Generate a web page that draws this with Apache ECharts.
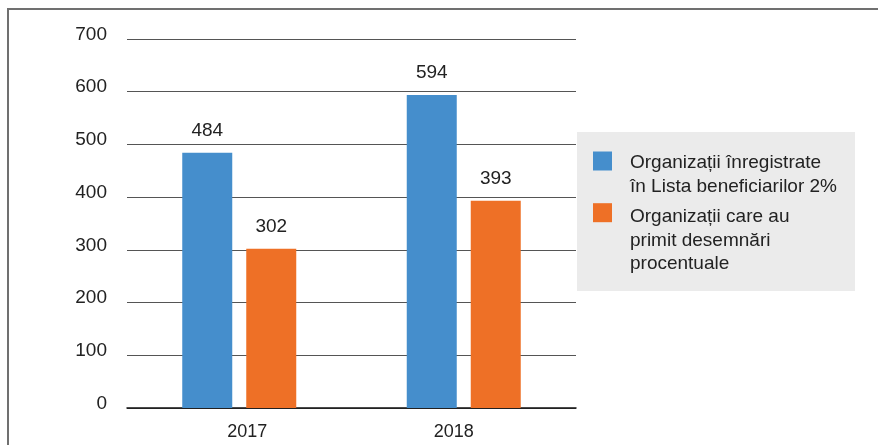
<!DOCTYPE html>
<html>
<head>
<meta charset="utf-8">
<script src="https://cdn.jsdelivr.net/npm/echarts@6/dist/echarts.min.js"></script>
<style>
  html, body { margin: 0; padding: 0; background: #fff; }
  #chart { width: 878px; height: 445px; }
</style>
</head>
<body>
<div id="chart"></div>
<script>
// data
const years = ['2017', '2018'];
const registered = [484, 594];
const received = [302, 393];
const seriesNames = [
  'Organizații înregistrate în Lista beneficiarilor 2%',
  'Organizații care au primit desemnări procentuale'
];
// wrapped legend text, as in the original
const legendLines = [
  ['Organizații înregistrate', 'în Lista beneficiarilor 2%'],
  ['Organizații care au', 'primit desemnări', 'procentuale']
];
const yTicks = [0, 100, 200, 300, 400, 500, 600, 700];

const FONT = '"Liberation Sans", Arial, sans-serif';
const LINE_H = 23.5;

const chart = echarts.init(document.getElementById('chart'));

// legend text is centred on its icon, so prepend blank spacer lines to put
// the icon next to the first real line
function legendText(name) {
  const lines = legendLines[seriesNames.indexOf(name)];
  const blanks = new Array(lines.length - 1).fill('{s| }');
  return blanks.concat(lines.map(l => '{t|' + l + '}')).join('\n');
}

chart.setOption({
  animation: false,
  textStyle: { fontFamily: FONT },
  graphic: [
    {
      type: 'polyline',
      shape: { points: [[8, 445], [8, 9], [878, 9]] },
      style: { stroke: '#707070', lineWidth: 2, fill: null },
      silent: true
    },
    {
      type: 'rect',
      z: -1,
      shape: { x: 577, y: 132, width: 278, height: 159 },
      style: { fill: '#ebebeb' },
      silent: true
    }
  ],
  grid: { left: 127, right: 302, top: 39, bottom: 37, containLabel: false },
  legend: {
    orient: 'vertical',
    left: 593,
    top: 128,
    padding: 0,
    itemGap: -42.3,
    itemWidth: 19,
    itemHeight: 19,
    icon: 'rect',
    data: seriesNames,
    formatter: legendText,
    textStyle: {
      fontFamily: FONT, fontSize: 19, color: '#222', padding: [0, 0, 0, 13],
      rich: {
        s: { fontSize: 19, lineHeight: 28, fontFamily: FONT },
        t: { fontSize: 19, lineHeight: LINE_H, color: '#222', fontFamily: FONT }
      }
    }
  },
  xAxis: {
    type: 'category',
    data: years,
    axisLine: { lineStyle: { color: '#111', width: 1.5 } },
    axisTick: { show: false },
    axisLabel: {
      color: '#222', fontSize: 18, margin: 15, fontFamily: FONT,
      // the original labels sit a little off the category centres
      formatter: (v, i) => (i === 0 ? '{a|' + v + '}' : '{b|' + v + '}'),
      rich: {
        a: { fontSize: 18, color: '#222', fontFamily: FONT, padding: [0, 0, 0, 16] },
        b: { fontSize: 18, color: '#222', fontFamily: FONT, padding: [0, 20, 0, 0] }
      }
    }
  },
  yAxis: {
    type: 'value',
    min: yTicks[0],
    max: yTicks[yTicks.length - 1],
    interval: 100,
    axisLine: { show: false },
    axisTick: { show: false },
    axisLabel: {
      color: '#222', fontSize: 19, margin: 20, fontFamily: FONT,
      verticalAlign: 'bottom', lineHeight: 9
    },
    splitLine: { lineStyle: { color: '#555', width: 1 } }
  },
  series: [
    {
      name: seriesNames[0],
      type: 'bar',
      data: registered,
      barWidth: 50,
      barGap: '28%',
      itemStyle: { color: '#458ecc' },
      label: { show: true, position: 'top', distance: 13, fontSize: 19, color: '#222', fontFamily: FONT }
    },
    {
      name: seriesNames[1],
      type: 'bar',
      data: received,
      barWidth: 50,
      itemStyle: { color: '#ee7026' },
      label: { show: true, position: 'top', distance: 13, fontSize: 19, color: '#222', fontFamily: FONT }
    }
  ]
});
</script>
</body>
</html>
